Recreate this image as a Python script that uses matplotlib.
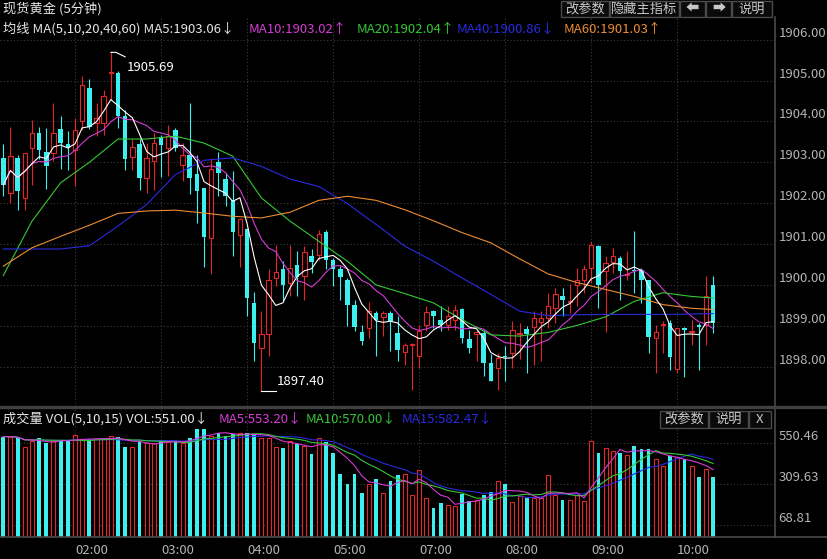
import numpy as np
import pandas as pd
import matplotlib
matplotlib.use("Agg")
import matplotlib.pyplot as plt
from matplotlib.lines import Line2D
from matplotlib.patches import Rectangle

plt.rcParams['font.family'] = ['Noto Sans CJK SC', 'DejaVu Sans']

# 5-minute gold candles (100 bars)
opens = [1903.11, 1902.25, 1903.11, 1902.13, 1903.35, 1903.72, 1903.25, 1903.23, 1903.82, 1903.45,
         1903.29, 1904.00, 1904.82, 1903.96, 1903.96, 1905.19, 1905.19, 1904.14, 1903.13, 1903.46,
         1902.62, 1903.03, 1903.61, 1903.35, 1903.78, 1902.94, 1903.19, 1902.72, 1902.36, 1901.15,
         1903.01, 1902.58, 1902.09, 1901.23, 1901.38, 1899.56, 1898.46, 1898.79, 1900.17, 1900.38,
         1900.05, 1900.49, 1900.21, 1900.72, 1900.74, 1901.29, 1900.60, 1900.38, 1900.13, 1899.52,
         1898.85, 1898.95, 1899.32, 1899.22, 1899.32, 1898.83, 1898.36, 1898.53, 1898.26, 1899.03,
         1899.36, 1899.15, 1899.03, 1899.15, 1899.41, 1898.68, 1898.79, 1898.83, 1898.08, 1897.97,
         1898.27, 1898.34, 1898.80, 1898.93, 1898.97, 1899.09, 1899.19, 1899.44, 1899.72, 1899.58,
         1900.00, 1900.13, 1900.42, 1900.96, 1900.34, 1900.56, 1900.65, 1900.25, 1900.36, 1900.36,
         1900.11, 1898.71, 1899.02, 1899.07, 1897.95, 1898.94, 1898.84, 1899.02, 1899.03, 1899.99]
highs = [1903.46, 1903.86, 1903.19, 1903.23, 1904.04, 1903.86, 1903.84, 1904.45, 1904.13, 1903.76,
         1904.08, 1905.12, 1905.04, 1904.45, 1904.78, 1905.69, 1905.23, 1904.29, 1903.56, 1903.56,
         1903.47, 1903.72, 1903.68, 1903.92, 1903.84, 1903.47, 1904.44, 1903.19, 1902.38, 1903.11,
         1903.25, 1902.74, 1902.78, 1901.64, 1901.40, 1899.83, 1899.36, 1900.38, 1900.99, 1900.58,
         1900.99, 1900.83, 1900.95, 1900.87, 1901.35, 1901.35, 1900.66, 1900.46, 1900.17, 1899.64,
         1899.03, 1899.58, 1899.36, 1899.36, 1899.36, 1899.24, 1898.58, 1898.57, 1899.03, 1899.48,
         1899.40, 1899.48, 1899.48, 1899.52, 1899.44, 1898.91, 1898.91, 1898.91, 1898.30, 1898.34,
         1898.50, 1899.11, 1899.07, 1898.99, 1899.36, 1899.36, 1899.81, 1899.93, 1899.93, 1900.03,
         1900.41, 1900.48, 1901.07, 1900.99, 1900.72, 1900.91, 1900.70, 1900.84, 1901.31, 1900.42,
         1900.13, 1899.03, 1899.11, 1899.15, 1898.95, 1898.97, 1899.15, 1899.07, 1900.23, 1900.23]
lows = [1902.17, 1902.01, 1901.84, 1901.84, 1902.45, 1903.07, 1902.35, 1903.03, 1902.84, 1902.82,
        1902.41, 1903.80, 1903.82, 1903.64, 1903.68, 1904.53, 1903.84, 1902.82, 1902.82, 1902.33,
        1902.25, 1902.33, 1902.64, 1902.66, 1903.27, 1902.54, 1902.23, 1901.52, 1900.44, 1900.28,
        1902.17, 1901.93, 1900.70, 1900.44, 1899.25, 1898.14, 1897.40, 1898.26, 1899.97, 1899.60,
        1899.72, 1899.72, 1899.64, 1900.29, 1900.62, 1900.38, 1899.97, 1899.64, 1898.99, 1898.87,
        1898.54, 1898.71, 1898.26, 1898.75, 1898.38, 1898.14, 1898.05, 1897.44, 1897.97, 1898.87,
        1898.95, 1898.87, 1898.91, 1898.91, 1898.58, 1898.34, 1898.14, 1897.77, 1897.65, 1897.44,
        1897.65, 1897.97, 1898.18, 1897.85, 1898.05, 1898.14, 1898.95, 1899.07, 1899.24, 1899.32,
        1899.48, 1899.81, 1900.05, 1899.44, 1898.84, 1900.29, 1899.64, 1900.13, 1899.81, 1899.56,
        1898.34, 1897.85, 1898.34, 1897.93, 1897.85, 1897.75, 1898.52, 1897.93, 1898.54, 1898.83]
closes = [1902.45, 1903.15, 1902.29, 1903.23, 1903.72, 1903.29, 1902.92, 1903.72, 1903.47, 1903.35,
          1903.80, 1904.88, 1903.86, 1904.08, 1904.63, 1905.22, 1904.14, 1903.08, 1903.38, 1902.62,
          1903.11, 1903.47, 1903.43, 1903.64, 1903.35, 1903.19, 1902.62, 1902.29, 1901.18, 1902.84,
          1902.74, 1902.17, 1901.30, 1901.62, 1899.68, 1898.58, 1898.80, 1900.13, 1900.31, 1900.00,
          1900.42, 1900.20, 1900.81, 1900.56, 1901.25, 1900.62, 1900.38, 1900.19, 1899.50, 1898.97,
          1898.62, 1899.37, 1899.15, 1899.32, 1899.11, 1898.40, 1898.52, 1898.54, 1898.87, 1899.33,
          1899.24, 1899.03, 1899.24, 1899.40, 1898.71, 1898.45, 1898.84, 1898.08, 1897.66, 1898.22,
          1898.24, 1898.89, 1898.83, 1898.79, 1899.19, 1899.19, 1899.48, 1899.79, 1899.63, 1899.62,
          1900.13, 1900.38, 1900.99, 1900.00, 1900.54, 1900.70, 1900.34, 1900.27, 1900.34, 1900.13,
          1898.73, 1898.85, 1899.05, 1898.24, 1898.95, 1898.90, 1898.86, 1898.97, 1899.72, 1899.07]
volumes = [586, 586, 576, 524, 560, 576, 551, 560, 562, 562,
           595, 570, 570, 570, 570, 592, 586, 527, 524, 560,
           551, 551, 560, 557, 560, 551, 580, 630, 628, 590,
           605, 590, 601, 605, 605, 595, 580, 580, 524, 518,
           560, 544, 530, 485, 576, 553, 489, 368, 310, 366,
           257, 310, 339, 257, 327, 362, 366, 246, 389, 226,
           168, 197, 187, 183, 255, 213, 216, 249, 265, 327,
           308, 207, 240, 226, 226, 226, 362, 249, 220, 220,
           246, 211, 560, 489, 518, 502, 489, 479, 531, 514,
           512, 455, 415, 475, 469, 455, 415, 352, 397, 352]

# long moving averages every 4th bar (they need history before the window)
ma_idx = [0, 4, 8, 12, 16, 20, 24, 28, 32, 36, 40, 44, 48, 52, 56, 60, 64, 68, 72, 76, 80, 84, 88, 92, 96, 99]
ma20 = [1900.23, 1901.56, 1902.50, 1903.00, 1903.57, 1903.57, 1903.64, 1903.47, 1903.15, 1902.13,
        1901.56, 1901.07, 1900.58, 1900.00, 1899.79, 1899.56, 1899.15, 1898.78, 1898.75, 1898.84,
        1899.01, 1899.22, 1899.60, 1899.81, 1899.72, 1899.68]
ma40 = [1900.88, 1900.88, 1900.88, 1900.96, 1901.44, 1901.97, 1902.70, 1903.05, 1903.11, 1902.90,
        1902.59, 1902.41, 1901.99, 1901.48, 1900.95, 1900.58, 1900.17, 1899.77, 1899.36, 1899.25,
        1899.27, 1899.28, 1899.28, 1899.28, 1899.29, 1899.30]
ma60 = [1900.46, 1900.91, 1901.19, 1901.46, 1901.75, 1901.81, 1901.83, 1901.76, 1901.68, 1901.64,
        1901.78, 1902.07, 1902.17, 1902.07, 1901.84, 1901.57, 1901.28, 1901.03, 1900.64, 1900.27,
        1900.06, 1899.89, 1899.72, 1899.52, 1899.43, 1899.40]

hour_pos = [10, 22, 34, 46, 58, 70, 82, 94]
hour_labels = ['02:00', '03:00', '04:00', '05:00', '07:00', '08:00', '09:00', '10:00']
price_ticks = [1898, 1899, 1900, 1901, 1902, 1903, 1904, 1905, 1906]
vol_ticks = [68.81, 309.63, 550.46]

RED = '#E3262A'
CYAN = '#3CF0F0'
GRID = '#3c3c3c'
TXT = '#B4B4B4'
C_MA10 = '#D63BD6'
C_MA20 = '#35C835'
C_MA40 = '#2A2AE0'
C_MA60 = '#EC8C34'

W, H = 828, 559
def fx(px):
    return px / W
def fy(py):
    return 1 - py / H

fig = plt.figure(figsize=(W / 100, H / 100), dpi=100, facecolor='black')
ax = fig.add_axes([0, fy(406), fx(775), fy(18) - fy(406)], facecolor='black')
ax2 = fig.add_axes([0, fy(537.3), fx(775), fy(408) - fy(537.3)], facecolor='black')

o = np.array(opens); h = np.array(highs); l = np.array(lows); c = np.array(closes)
idx = np.arange(len(c))
up = c >= o
col = np.where(up, RED, CYAN)

# candles
ax.vlines(idx, l, h, colors=col, lw=0.8, zorder=2)
body = np.maximum(np.abs(c - o), 0.03)
bot = np.minimum(o, c)
ax.bar(idx[up], body[up], bottom=bot[up], width=0.62, facecolor='black', edgecolor=RED, lw=0.8, zorder=3)
ax.bar(idx[~up], body[~up], bottom=bot[~up], width=0.62, color=CYAN, lw=0, zorder=3)

# moving averages
cs = pd.Series(c)
ax.plot(idx, cs.rolling(10, min_periods=1).mean(), color=C_MA10, lw=0.8, zorder=4)
ax.plot(idx, cs.rolling(5, min_periods=1).mean(), color='white', lw=0.8, zorder=5)
ax.plot(ma_idx, ma20, color=C_MA20, lw=0.8, zorder=4)
ax.plot(ma_idx, ma40, color=C_MA40, lw=0.8, zorder=4)
ax.plot(ma_idx, ma60, color=C_MA60, lw=0.8, zorder=4)

# high / low marks
ihi = int(np.argmax(h)); ilo = int(np.argmin(l))
ax.plot([ihi, ihi + 0.7, ihi + 2.0], [h[ihi], h[ihi], h[ihi] - 0.11], color='white', lw=0.8, zorder=6)
ax.text(ihi + 2.2, h[ihi] - 0.36, '%.2f' % h[ihi], color='white', fontsize=9.5, va='center', ha='left', zorder=6)
ax.plot([ilo, ilo + 2.0], [l[ilo], l[ilo]], color='white', lw=0.8, zorder=6)
ax.text(ilo + 2.2, l[ilo] + 0.23, '%.2f' % l[ilo], color='white', fontsize=9.5, va='center', ha='left', zorder=6)

ax.set_xlim(-0.46, 107.63)
ax.set_ylim(1897.04, 1906.53)
ax.set_xticks(hour_pos)
ax.set_yticks(price_ticks)
ax.set_yticklabels(['%.2f' % p for p in price_ticks])
ax.yaxis.tick_right()
ax.tick_params(axis='y', length=0, pad=2.5, labelcolor=TXT, labelsize=9.5)
ax.tick_params(axis='x', length=0, labelbottom=False)
for t in ax.get_yticklabels():
    t.set_ha('left'); t.set_va('bottom')
ax.grid(True, color=GRID, linestyle=(0, (1, 2)), lw=0.8)
ax.set_axisbelow(True)

# volume panel
vol = np.array(volumes, dtype=float)
vs = pd.Series(vol)
ax2.bar(idx[up], vol[up], width=0.56, facecolor='black', edgecolor=RED, lw=0.8, zorder=3)
ax2.bar(idx[~up], vol[~up], width=0.52, color=CYAN, lw=0, zorder=3)
ax2.plot(idx, vs.rolling(15, min_periods=1).mean(), color=C_MA40, lw=0.8, zorder=4)
ax2.plot(idx, vs.rolling(10, min_periods=1).mean(), color=C_MA20, lw=0.8, zorder=4)
ax2.plot(idx, vs.rolling(5, min_periods=1).mean(), color=C_MA10, lw=0.8, zorder=4)
ax2.set_xlim(-0.46, 107.63)
ax2.set_ylim(0, 752.8)
ax2.set_yticks(vol_ticks)
ax2.set_yticklabels(['%.2f' % v for v in vol_ticks])
ax2.yaxis.tick_right()
ax2.tick_params(axis='y', length=0, pad=2.5, labelcolor=TXT, labelsize=9.5)
for t in ax2.get_yticklabels():
    t.set_ha('left'); t.set_va('bottom')
ax2.set_xticks(hour_pos)
ax2.set_xticklabels(hour_labels)
ax2.tick_params(axis='x', length=0, pad=5, labelcolor=TXT, labelsize=9.5)
for t in ax2.get_xticklabels():
    t.set_ha('left')
ax2.grid(True, color=GRID, linestyle=(0, (1, 2)), lw=0.8)
ax2.set_axisbelow(True)

for a in (ax, ax2):
    for s in a.spines.values():
        s.set_visible(False)

# frame lines
LINE = '#4a4a4a'
fig.add_artist(Line2D([fx(775), fx(775)], [fy(17), fy(537.3)], color=LINE, lw=1.2))
fig.add_artist(Line2D([0, 1], [fy(407), fy(407)], color='#404040', lw=2.4))
fig.add_artist(Line2D([0, 1], [fy(537.3), fy(537.3)], color=LINE, lw=1.2))

def ftext(px, py, s, color, ha='left', size=9.5):
    fig.text(fx(px), fy(py), s, color=color, fontsize=size, ha=ha, va='center')

def button(x0, x1, y0, y1, label):
    fig.add_artist(Rectangle((fx(x0), fy(y1)), fx(x1) - fx(x0), fy(y0) - fy(y1),
                             transform=fig.transFigure, facecolor='#0a0a0a', edgecolor='#4a4a4a', lw=1))
    ftext((x0 + x1) / 2, (y0 + y1) / 2, label, '#C8C8C8', ha='center')

# headers
ftext(3, 9, '现货黄金 (5分钟)', '#E6E6E6')
ftext(3, 29, '均线 MA(5,10,20,40,60) MA5:1903.06↓', '#E6E6E6')
ftext(249, 29, 'MA10:1903.02↑', C_MA10)
ftext(357, 29, 'MA20:1902.04↑', C_MA20)
ftext(457, 29, 'MA40:1900.86↓', C_MA40)
ftext(564, 29, 'MA60:1901.03↑', C_MA60)

ftext(3, 419, '成交量 VOL(5,10,15) VOL:551.00↓', '#E6E6E6')
ftext(219, 419, 'MA5:553.20↓', C_MA10)
ftext(306, 419, 'MA10:570.00↓', C_MA20)
ftext(402, 419, 'MA15:582.47↓', C_MA40)

button(561, 609, 1, 17, '改参数')
button(610, 679, 1, 17, '隐藏主指标')
button(680, 705, 1, 17, '⬅')
button(706, 731, 1, 17, '➡')
button(732, 772, 1, 17, '说明')
button(660, 708, 411, 428, '改参数')
button(709, 748, 411, 428, '说明')
button(749, 771, 411, 428, 'X')

plt.savefig('out.png', dpi=100, facecolor='black')
